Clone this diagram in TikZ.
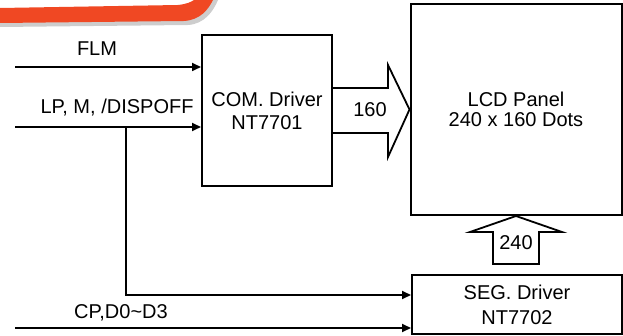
\documentclass[tikz,border=0pt]{standalone}
\usepackage{fontspec}
\setmainfont{Liberation Sans}
\usetikzlibrary{arrows.meta,calc}
\definecolor{swooshred}{RGB}{240,72,35}
\definecolor{swooshshadow}{RGB}{205,205,205}
\tikzset{
  box/.style={draw=black, line width=2pt, fill=white, inner sep=0pt, align=center},
  sig/.style={line width=1.7pt, -{Triangle[length=9pt,width=8pt]}},
  plain/.style={line width=1.7pt},
  bigarrow/.style={draw=black, fill=white, line width=1.8pt, line join=miter},
  lbl/.style={inner sep=0pt, align=center},
}
\begin{document}
\begin{tikzpicture}[x=1pt,y=-1pt,font=\fontsize{20}{23}\selectfont]
\useasboundingbox (0,0) rectangle (623,336);
% decorative swoosh at the top
\fill[swooshshadow] (0,12) -- (180,9) .. controls (190,8) and (195,4) .. (198,0) -- (218,0) .. controls (213,12) and (204,24) .. (188,25) -- (0,27) -- cycle;
\fill[swooshred] (0,8) -- (178,5) .. controls (187,4) and (191,2) .. (194,0) -- (213,0) .. controls (208,10) and (200,20) .. (184,21) -- (0,23) -- cycle;
% blocks
\node[box, minimum width=130pt, minimum height=151pt] (com) at (267,110.5) {COM. Driver\\NT7701};
\node[box, minimum width=211pt, minimum height=211pt, font=\fontsize{20}{20}\selectfont] (lcd) at (516,109.5) {LCD Panel\\240 x 160 Dots};
\node[box, minimum width=210pt, minimum height=59pt, font=\fontsize{20}{25}\selectfont] (seg) at (517,304.5) {SEG. Driver\\NT7702};
% big bus arrows
\draw[bigarrow] (com.east |- 0,88) -- (388,88) -- (388,65) -- (lcd.west) -- (388,157) -- (388,133) -- (com.east |- 0,133);
\node[lbl] (n160) at (370,110) {160};
\draw[bigarrow] (lcd.south) -- (562,232) -- (539,232) -- (539,264) -- (493,264) -- (493,232) -- (470,232) -- cycle;
\node[lbl] (n240) at (516,242.5) {240};
% signals
\coordinate (flmS) at (15,67);
\coordinate (lpS) at (15,127);
\coordinate (br) at (126,127);
\coordinate (cpS) at (15,328);
\draw[sig] (flmS) -- (flmS -| com.west);
\node[lbl] (lflm) at (97,49) {FLM};
\draw[sig] (lpS) -- (lpS -| com.west);
\node[lbl] (llp) at (117,108) {LP, M, /DISPOFF};
\draw[sig] (br) |- ($(seg.west)+(0,-9.5)$);
\draw[sig] (cpS) -- (cpS -| seg.west);
\node[lbl] (lcp) at (121,313) {CP,D0\textasciitilde D3};
\end{tikzpicture}
\end{document}
